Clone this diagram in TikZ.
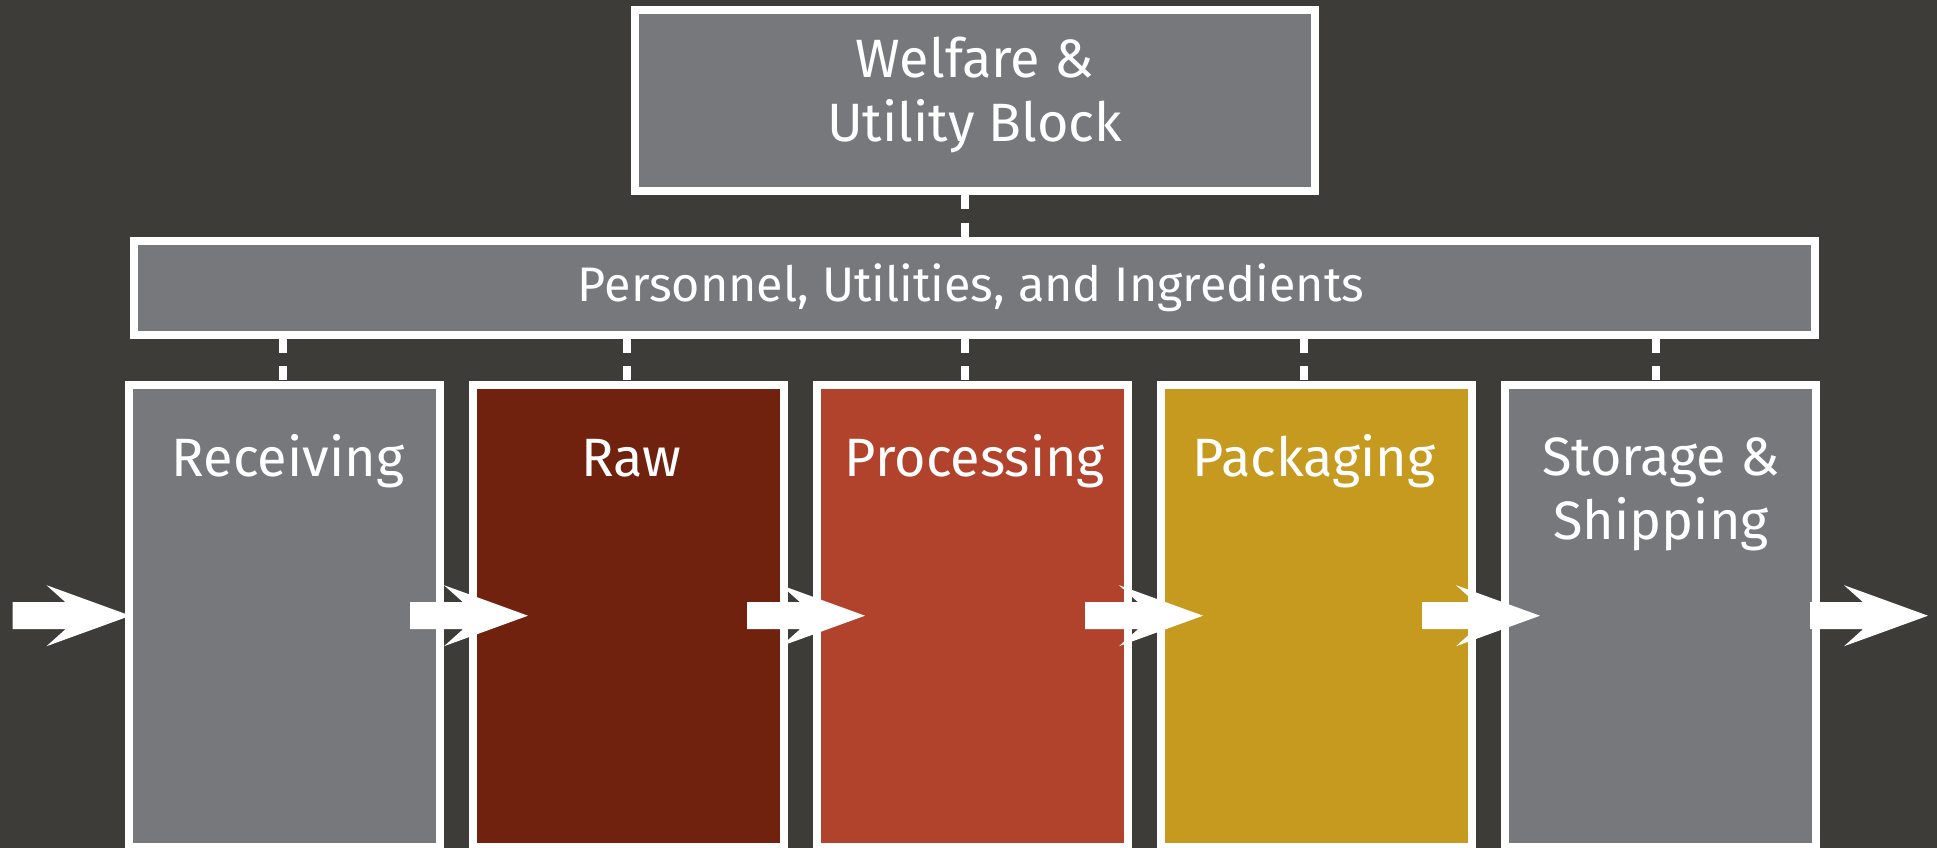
\documentclass[tikz,border=0pt]{standalone}
\usepackage{fontspec}
\setmainfont{Fira Sans}
\definecolor{bgc}{HTML}{3D3C38}
\definecolor{grayc}{HTML}{77787C}
\definecolor{rawc}{HTML}{70220E}
\definecolor{procc}{HTML}{B1432D}
\definecolor{packc}{HTML}{C59A1F}
\tikzset{
  blk/.style={draw=white, line width=8pt, inner sep=0pt, rectangle},
  lbl/.style={text=white, inner sep=0pt, align=center, font=\fontsize{54}{63.8}\selectfont},
  barlbl/.style={text=white, inner sep=0pt, font=\fontsize{48.5}{58}\selectfont},
  dashconn/.style={draw=white, line width=8pt, dash pattern=on 14pt off 13.4pt},
  blockarrow/.pic={\fill[white] (0,-13.5) -- (53,-13.5) -- (34,-30.5) -- (118,0) -- (34,30.5) -- (53,13.5) -- (0,13.5) -- cycle;}
}
\begin{document}
\begin{tikzpicture}[x=1pt,y=-1pt]
\useasboundingbox (0,0) rectangle (1937,848);
\clip (0,0) rectangle (1937,848);
\fill[bgc] (0,0) rectangle (1937,848);
% top box and bar
\node[blk, fill=grayc, minimum width=680pt, minimum height=181.3pt] (wel) at (974.7,100.65) {};
\node[blk, fill=grayc, minimum width=1681pt, minimum height=94pt] (bar) at (974.5,287.7) {};
% process boxes
\node[blk, fill=grayc, minimum width=310.5pt, minimum height=462.2pt] (b1) at (284.25,615.6) {};
\node[blk, fill=rawc, minimum width=310.5pt, minimum height=462.2pt] (b2) at (628.25,615.6) {};
\node[blk, fill=procc, minimum width=310.5pt, minimum height=462.2pt] (b3) at (972.25,615.6) {};
\node[blk, fill=packc, minimum width=310.5pt, minimum height=462.2pt] (b4) at (1316.25,615.6) {};
\node[blk, fill=grayc, minimum width=310.5pt, minimum height=462.2pt] (b5) at (1660.25,615.6) {};
% labels
\node[lbl, anchor=base] (lw) at (974.7,141.7) {Welfare \&\\Utility Block};
\node[barlbl, anchor=base] (lb) at (971,301) {Personnel, Utilities, and Ingredients};
\node[lbl, anchor=base] (l1) at (288,476) {Receiving};
\node[lbl, anchor=base] (l2) at (631,476) {Raw};
\node[lbl, anchor=base] (l3) at (975,476) {Processing};
\node[lbl, anchor=base] (l4) at (1314,476) {Packaging};
\node[lbl, anchor=base] (l5) at (1661,539.3) {Storage \&\\Shipping};
% dashed connectors
\coordinate (c0) at (965.3,0);
\draw[dashconn] (wel.south -| c0) -- (bar.north -| c0);
\coordinate (c1) at (283,0);
\coordinate (c2) at (626.7,0);
\coordinate (c3) at (965.3,0);
\coordinate (c4) at (1304,0);
\coordinate (c5) at (1656,0);
\foreach \i in {1,...,5}{
  \draw[dashconn] (bar.south -| c\i) -- (b\i.north -| c\i);
}
% flow arrows
\foreach \x in {12.5,410,747,1085,1422,1810}{
  \pic at (\x,615.7) {blockarrow};
}
\end{tikzpicture}
\end{document}
